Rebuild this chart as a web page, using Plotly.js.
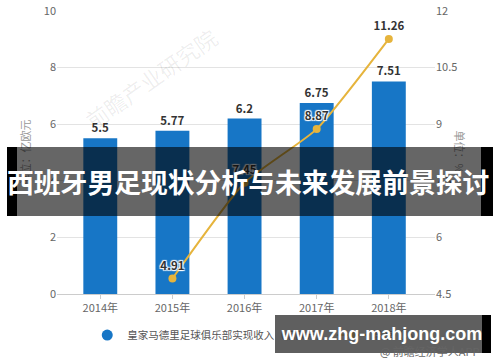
<!DOCTYPE html>
<html>
<head>
<meta charset="utf-8">
<script src="https://cdn.plot.ly/plotly-3.0.1.min.js"></script>
<style>
  html, body { margin: 0; padding: 0; background: #fff; }
  #wrap { position: relative; width: 500px; height: 362px; overflow: hidden; }
  #chart { position: absolute; left: 0; top: 0; width: 500px; height: 362px; }
  .ov { position: absolute; }
</style>
</head>
<body>
<div id="wrap">
  <div id="chart"></div>
  <div class="ov" style="left:7px;top:147px;width:10px;height:69px;background:#000;"></div>
  <div class="ov" style="left:17px;top:147px;width:464px;height:69px;background:rgba(0,0,0,0.6);"></div>
  <div class="ov" style="left:481px;top:147px;width:12px;height:69px;background:#000;"></div>
  <div class="ov" style="left:7px;top:147px;width:486px;height:69px;line-height:69px;color:#fff;font-family:'Noto Sans CJK SC',sans-serif;font-weight:bold;font-size:26.8px;white-space:nowrap;text-align:left;">西班牙男足现状分析与未来发展前景探讨</div>
  <div class="ov" style="left:275px;top:315px;width:207px;height:38px;background:rgba(60,60,60,0.82);"></div>
  <div class="ov" style="left:482px;top:315px;width:9px;height:38px;background:#000;"></div>
  <div class="ov" style="left:280px;top:315px;width:204px;height:38px;line-height:38px;color:#fff;font-family:'Liberation Sans',Arial,sans-serif;font-weight:bold;font-size:18px;text-align:center;white-space:nowrap;">www.zhg-mahjong.com</div>
  <div class="ov" style="left:380px;top:343px;width:100px;height:16px;line-height:16px;color:#666;font-family:'Noto Sans CJK SC',sans-serif;font-size:11px;white-space:nowrap;">@ 前瞻经济学人APP</div>
</div>
<script>
const years = ['2014年', '2015年', '2016年', '2017年', '2018年'];
const revenue = [5.5, 5.77, 6.2, 6.75, 7.51];
const growthYears = ['2015年', '2016年', '2017年', '2018年'];
const growth = [4.91, 7.45, 8.87, 11.26];
const revenueName = '皇家马德里足球俱乐部实现收入（亿欧元）';
const growthName = '增速（%）';
const leftTicks = [0, 2, 4, 6, 8, 10];
const rightTicks = [4.5, 6, 7.5, 9, 10.5, 12];

const cjk = "'Noto Sans CJK SC', 'Noto Sans', sans-serif";
const barColor = '#1776c6';
const lineColor = '#e6b43c';

const traces = [
  {
    type: 'bar', x: years, y: revenue, name: revenueName, showlegend: false,
    marker: { color: barColor }, width: 0.47,
    text: revenue.map(String), textposition: 'outside', cliponaxis: false,
    textfont: { family: cjk, size: 11.5, color: '#333', weight: 'bold' },
    hoverinfo: 'skip'
  },
  {
    type: 'scatter', mode: 'lines+markers+text', x: growthYears, y: growth, yaxis: 'y2',
    name: growthName, showlegend: false,
    line: { color: lineColor, width: 2, shape: 'spline', smoothing: 0.5 },
    marker: { color: lineColor, size: 8 },
    text: growth.map(v => v.toFixed(2)), textposition: 'top center', cliponaxis: false,
    textfont: { family: cjk, size: 11.5, color: '#333', weight: 'bold',
      shadow: '1px 1px 1px #fff, -1px -1px 1px #fff, 1px -1px 1px #fff, -1px 1px 1px #fff' }
  },
  {
    type: 'scatter', mode: 'markers', x: [null], y: [null], name: revenueName,
    marker: { color: barColor, size: 11, symbol: 'circle' }, showlegend: true
  },
  {
    type: 'scatter', mode: 'lines+markers', x: [null], y: [null], yaxis: 'y2', name: growthName,
    line: { color: lineColor, width: 2 }, marker: { color: lineColor, size: 8 }, showlegend: true
  }
];

const layout = {
  width: 500, height: 362,
  margin: { l: 57, r: 65, t: 11, b: 68 },
  paper_bgcolor: '#fff', plot_bgcolor: '#fff',
  font: { family: cjk, size: 11, color: '#666' },
  bargap: 0.53,
  xaxis: {
    type: 'category', categoryorder: 'array', categoryarray: years,
    range: [-0.6, 4.64],
    showline: true, linecolor: '#cccccc', linewidth: 1,
    ticks: 'outside', ticklen: 4, tickcolor: '#cccccc',
    tickfont: { family: cjk, size: 11, color: '#666' },
    showgrid: false, fixedrange: true
  },
  yaxis: {
    range: [0, 10], tickvals: leftTicks, ticktext: leftTicks.map(String),
    showgrid: true, gridcolor: '#e3e3e3', gridwidth: 1, zeroline: false,
    tickfont: { family: cjk, size: 11, color: '#666' },
    title: { text: '单位：亿欧元', font: { family: cjk, size: 11, color: '#999' }, standoff: 10 },
    fixedrange: true
  },
  yaxis2: {
    overlaying: 'y', side: 'right', range: [4.5, 12],
    tickvals: rightTicks, ticktext: rightTicks.map(String),
    showgrid: false, zeroline: false,
    tickfont: { family: cjk, size: 11, color: '#666' },
    fixedrange: true
  },
  legend: {
    orientation: 'h', x: 0.08, xanchor: 'left', y: -0.145, yanchor: 'middle',
    font: { family: cjk, size: 10.5, color: '#555' }, bgcolor: 'rgba(0,0,0,0)'
  },
  annotations: [
    { xref: 'paper', yref: 'paper', x: 1.095, y: 0.5, text: '单位：%', showarrow: false,
      textangle: 90, font: { family: cjk, size: 11, color: '#999' } },
    { xref: 'paper', yref: 'paper', x: 0.05, y: 0.55, xanchor: 'left', yanchor: 'bottom', text: '前瞻产业研究院', showarrow: false,
      textangle: -35, font: { family: cjk, size: 22, color: 'rgba(0,0,0,0.07)' } }
  ],
  showlegend: true
};

Plotly.newPlot('chart', traces, layout, { displayModeBar: false, staticPlot: true });
</script>
</body>
</html>
